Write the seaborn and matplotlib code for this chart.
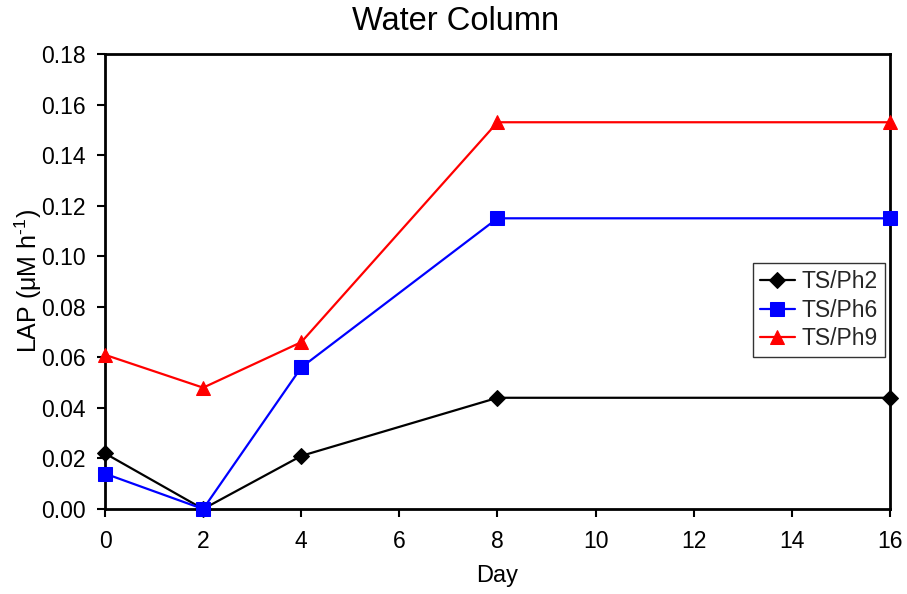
import matplotlib
matplotlib.use("Agg")
import matplotlib.pyplot as plt
import seaborn as sns
import pandas as pd

days = [0, 2, 4, 8, 16]
ts_ph2 = [0.022, 0.0, 0.021, 0.044, 0.044]
ts_ph6 = [0.014, 0.0, 0.056, 0.115, 0.115]
ts_ph9 = [0.061, 0.048, 0.066, 0.153, 0.153]
series_names = ["TS/Ph2", "TS/Ph6", "TS/Ph9"]
x_ticks = [0, 2, 4, 6, 8, 10, 12, 14, 16]
y_ticks = [0.00, 0.02, 0.04, 0.06, 0.08, 0.10, 0.12, 0.14, 0.16, 0.18]

sns.set_theme(style="white")
plt.rcParams["font.family"] = ["Liberation Sans", "DejaVu Sans"]
plt.rcParams["mathtext.fontset"] = "custom"
plt.rcParams["mathtext.rm"] = "Liberation Sans"
plt.rcParams["mathtext.it"] = "Liberation Sans"

fig = plt.figure(figsize=(9.07, 5.94), dpi=100)
ax = fig.add_axes([105/907, 1-509/594, (890-105)/907, (509-54)/594])

styles = [
    dict(color="black", marker="D", markersize=8.5),
    dict(color="#0000FF", marker="s", markersize=10),
    dict(color="#FF0000", marker="^", markersize=10),
]
for name, vals, st in zip(series_names, [ts_ph2, ts_ph6, ts_ph9], styles):
    df = pd.DataFrame({"Day": days, "LAP": vals})
    sns.lineplot(data=df, x="Day", y="LAP", ax=ax, label=name,
                 color=st["color"], marker=st["marker"], markersize=st["markersize"],
                 markeredgecolor=st["color"], linewidth=1.6, clip_on=False, zorder=3)

ax.set_xlim(0, 16)
ax.set_ylim(0, 0.18)
ax.set_xticks(x_ticks)
ax.set_xticklabels([str(t) for t in x_ticks])
ax.set_yticks(y_ticks)
ax.set_yticklabels([f"{t:.2f}" for t in y_ticks])
ax.tick_params(axis="both", direction="out", length=6, width=1.5, color="black",
               labelsize=16.5, labelcolor="black", left=True, bottom=True)
ax.tick_params(axis="x", pad=9)
ax.tick_params(axis="y", pad=8)
for s in ax.spines.values():
    s.set_visible(True)
    s.set_color("black")
    s.set_linewidth(2)

fig.text(456/907, 1-30/594, "Water Column", fontsize=23.5, color="black",
         ha="center", va="baseline")
ax.set_xlabel("Day", fontsize=17, color="black", labelpad=9)
ax.set_ylabel(r"LAP ($\mu$M h$^{\text{-}1}$)", fontsize=18, color="black", labelpad=-2)

leg = ax.legend(loc="center right", bbox_to_anchor=(0.993, 0.437), borderaxespad=0,
                frameon=True, fancybox=False, edgecolor="black", fontsize=16.5,
                handlelength=1.5, labelspacing=0.25, borderpad=0.3, handletextpad=0.3)
leg.get_frame().set_linewidth(1)

fig.savefig("out.png", dpi=100)
